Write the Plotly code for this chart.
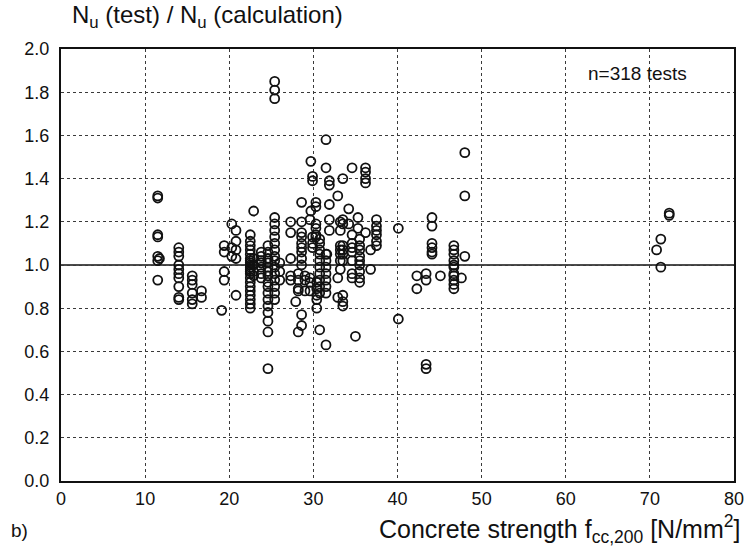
import plotly.graph_objects as go

# Test results grouped by concrete strength f_cc,200 [N/mm²]: one x value per group,
# with the measured ratios N_u(test)/N_u(calculation) for that group.
group_strength = [
    11.5, 11.7, 14.0, 15.6, 16.7, 19.1, 19.4, 20.3, 20.8, 22.5, 22.9, 23.8, 24.6, 25.4,
    26.0, 27.3, 27.9, 28.2, 28.6, 29.0, 29.6, 29.7, 29.9, 30.3, 30.4, 30.75, 31.5, 31.6,
    31.9, 32.9, 33.2, 33.5, 34.2, 34.6, 35.0, 35.3, 35.5, 36.2, 36.8, 37.5, 40.1, 42.3,
    43.4, 44.1, 45.1, 46.7, 47.6, 48.0, 70.8, 71.3, 72.3,
]
group_ratios = [
    [1.32, 1.31, 1.14, 1.13, 1.04, 1.02, 0.93],
    [1.03],
    [1.08, 1.06, 1.04, 1.00, 0.98, 0.96, 0.94, 0.90, 0.85, 0.84],
    [0.95, 0.93, 0.91, 0.87, 0.84, 0.82],
    [0.88, 0.85],
    [0.79],
    [1.09, 1.06, 0.97, 0.93],
    [1.19, 1.08, 1.04],
    [1.16, 1.11, 1.07, 1.03, 0.86],
    [1.14, 1.11, 1.09, 1.07, 1.05, 1.03, 1.02, 1.01, 1.00, 0.99, 0.98, 0.97, 0.96,
     0.94, 0.92, 0.90, 0.88, 0.86, 0.84, 0.82, 0.80],
    [1.25, 1.03, 1.00, 0.97, 0.95],
    [1.06, 1.04, 1.02, 1.01, 0.99, 0.96, 0.94],
    [1.09, 1.06, 1.03, 1.01, 0.99, 0.97, 0.95, 0.92, 0.90, 0.87, 0.84, 0.81, 0.78,
     0.74, 0.69, 0.52],
    [1.85, 1.81, 1.77, 1.22, 1.19, 1.16, 1.13, 1.10, 1.07, 1.04, 1.02, 0.99, 0.96,
     0.93, 0.90, 0.87, 0.84],
    [1.01, 0.97, 0.93],
    [1.20, 1.15, 1.03, 0.95, 0.93],
    [0.83],
    [0.96, 0.93, 0.89, 0.88, 0.69],
    [1.29, 1.20, 1.15, 1.13, 1.10, 1.08, 1.06, 1.03, 1.00, 0.77, 0.72],
    [0.95, 0.93, 0.88],
    [1.21, 0.94, 0.92, 0.88],
    [1.48, 1.25],
    [1.41, 1.39, 1.13, 1.10, 1.08],
    [1.29, 1.27, 1.19, 1.17, 1.14, 1.13],
    [0.92, 0.89, 0.86, 0.84, 0.80],
    [1.12, 1.10, 1.07, 1.05, 1.02, 0.99, 0.96, 0.93, 0.90, 0.87, 0.70],
    [1.58, 1.45, 1.05, 1.02, 0.99, 0.96, 0.93, 0.90, 0.87, 0.63],
    [1.05],
    [1.39, 1.37, 1.28, 1.21, 1.16],
    [1.32, 0.94, 0.85],
    [1.20, 1.16, 1.09, 1.07, 1.05, 1.02, 0.98],
    [1.40, 1.21, 1.19, 1.09, 1.07, 1.05, 1.02, 0.86, 0.83, 0.81],
    [1.26, 1.19],
    [1.45, 1.14, 1.10, 1.08, 1.06, 1.02, 0.96, 0.94],
    [0.67],
    [1.22, 1.17],
    [1.12, 1.09, 1.07, 1.04, 1.02, 1.00, 0.97, 0.94, 0.92],
    [1.45, 1.43, 1.40, 1.38, 1.15],
    [1.07, 0.98],
    [1.21, 1.18, 1.16, 1.14, 1.11, 1.09],
    [1.17, 0.75],
    [0.95, 0.89],
    [0.96, 0.93, 0.54, 0.52],
    [1.22, 1.18, 1.10, 1.08, 1.06, 1.05],
    [0.95],
    [1.09, 1.07, 1.05, 1.02, 1.00, 0.99, 0.96, 0.95, 0.93, 0.91, 0.89],
    [0.94],
    [1.52, 1.32, 1.04],
    [1.07],
    [1.12, 0.99],
    [1.24, 1.23],
]

x_ticks = [0, 10, 20, 30, 40, 50, 60, 70, 80]
y_ticks = [0.0, 0.2, 0.4, 0.6, 0.8, 1.0, 1.2, 1.4, 1.6, 1.8, 2.0]

xs, ys = [], []
for fc, ratios in zip(group_strength, group_ratios):
    for r in ratios:
        xs.append(fc)
        ys.append(r)

FONT = "Liberation Sans, Arial, sans-serif"
INK = "#111111"

fig = go.Figure()
fig.add_trace(go.Scatter(
    x=xs, y=ys, mode="markers",
    marker=dict(symbol="circle-open", size=9, color=INK, line=dict(width=1.8)),
    showlegend=False, hoverinfo="x+y",
))

# reference line at ratio 1.0
fig.add_shape(type="line", xref="paper", x0=0, x1=1, yref="y", y0=1.0, y1=1.0,
              line=dict(color=INK, width=1.6), layer="below")

axis_common = dict(
    showgrid=True, gridcolor="#3a3a3a", gridwidth=1, griddash="dot",
    showline=True, linecolor=INK, linewidth=2, mirror=True,
    ticks="", zeroline=False,
    tickfont=dict(family=FONT, size=18, color=INK),
)
fig.update_xaxes(range=[0, 80], tickvals=x_ticks, ticktext=[str(v) for v in x_ticks],
                 **axis_common)
fig.update_yaxes(range=[0, 2.0], tickvals=y_ticks, ticktext=[f"{v:.1f}" for v in y_ticks],
                 ticklabelstandoff=6, **axis_common)

fig.update_layout(
    width=756, height=554,
    margin=dict(l=61, r=16, t=49, b=73),
    paper_bgcolor="white", plot_bgcolor="white",
    font=dict(family=FONT, color=INK),
    annotations=[
        dict(text="N<sub>u</sub> (test) / N<sub>u</sub> (calculation)",
             xref="paper", yref="paper", x=0.014, y=1.075, xanchor="left", yanchor="middle",
             showarrow=False, font=dict(family=FONT, size=24, color=INK)),
        dict(text="n=318 tests", xref="paper", yref="paper", x=0.857, y=0.944,
             xanchor="center", yanchor="middle", showarrow=False,
             font=dict(family=FONT, size=19, color=INK)),
        dict(text="Concrete strength f<sub>cc,200</sub> [N/mm<sup>2</sup>]",
             xref="paper", yref="paper", x=1.012, y=-0.11, xanchor="right", yanchor="middle",
             showarrow=False, font=dict(family=FONT, size=25, color=INK)),
        dict(text="b)", xref="paper", yref="paper", x=-0.077, y=-0.115,
             xanchor="left", yanchor="middle", showarrow=False,
             font=dict(family=FONT, size=19, color=INK)),
    ],
)

fig.write_html("out.html")
